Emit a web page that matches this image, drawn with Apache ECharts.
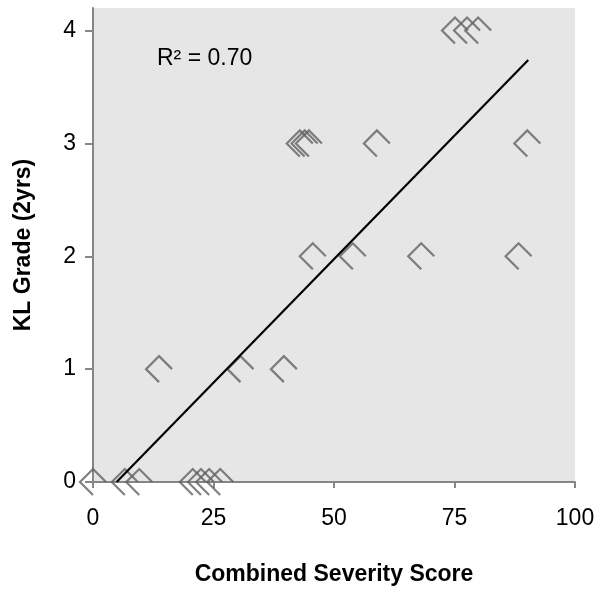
<!DOCTYPE html>
<html>
<head>
<meta charset="utf-8">
<script src="https://cdn.jsdelivr.net/npm/echarts@6/dist/echarts.min.js"></script>
<style>
html,body{margin:0;padding:0;background:#fff;}
#chart{width:601px;height:592px;}
</style>
</head>
<body>
<div id="chart"></div>
<script>
// Data
var severityScore = [0, 6.6, 9.6, 20.7, 22.4, 24.1, 26.4,
                     13.7, 30.6, 39.6,
                     45.6, 53.9, 68.1, 88.3,
                     42.9, 43.9, 44.8, 58.9, 90.1,
                     75.1, 77.6, 79.9];
var klGrade = [0, 0, 0, 0, 0, 0, 0,
               1, 1, 1,
               2, 2, 2, 2,
               3, 3, 3, 3, 3,
               4, 4, 4];
var trendX = [4.9, 90.3];
var trendY = [0, 3.74];
var xTicks = [0, 25, 50, 75, 100];
var yTicks = [0, 1, 2, 3, 4];
var rSquaredText = 'R² = 0.70';
var xTitle = 'Combined Severity Score';
var yTitle = 'KL Grade (2yrs)';

var points = severityScore.map(function (x, i) { return [x, klGrade[i]]; });
var trend = trendX.map(function (x, i) { return [x, trendY[i]]; });

var FONT = '"Liberation Sans", Arial, sans-serif';
var chart = echarts.init(document.getElementById('chart'), null, {renderer: 'canvas'});
chart.setOption({
  animation: false,
  backgroundColor: '#ffffff',
  grid: {
    left: 93, right: 26, top: 8, bottom: 110,
    show: true, backgroundColor: '#e6e6e6', borderWidth: 0
  },
  xAxis: {
    type: 'value', min: 0, max: 100, interval: 25,
    name: xTitle, nameLocation: 'middle', nameGap: 81,
    nameTextStyle: {fontFamily: FONT, fontSize: 23, fontWeight: 'bold', color: '#000'},
    axisLine: {show: true, onZero: false, lineStyle: {color: '#868686', width: 2}},
    axisTick: {show: true, inside: false, length: 6, lineStyle: {color: '#868686', width: 2}, customValues: xTicks},
    axisLabel: {fontFamily: FONT, fontSize: 23, color: '#000', margin: 25, customValues: xTicks},
    splitLine: {show: false}
  },
  yAxis: {
    type: 'value', min: 0, max: 4.2, interval: 1,
    name: yTitle, nameLocation: 'middle', nameGap: 58,
    nameTextStyle: {fontFamily: FONT, fontSize: 23, fontWeight: 'bold', color: '#000'},
    axisLine: {show: true, onZero: false, lineStyle: {color: '#868686', width: 2}},
    axisTick: {show: true, inside: false, length: 8, lineStyle: {color: '#868686', width: 2}, customValues: yTicks},
    axisLabel: {fontFamily: FONT, fontSize: 23, color: '#000', margin: 17, customValues: yTicks},
    splitLine: {show: false}
  },
  graphic: [{
    type: 'text', left: 157, top: 47, z: 10,
    style: {text: rSquaredText, fontFamily: FONT, fontSize: 23, fill: '#000'}
  }],
  series: [{
    type: 'scatter',
    data: points,
    clip: false,
    symbol: 'path://M10,20 L0,10 L10,0 L20,10',
    symbolSize: 26,
    itemStyle: {color: 'rgba(0,0,0,0)', borderColor: '#626262', borderWidth: 2.2},
    z: 3
  }, {
    type: 'line',
    data: trend,
    symbol: 'none',
    lineStyle: {color: '#000', width: 2.2},
    z: 4
  }]
});
</script>
</body>
</html>
